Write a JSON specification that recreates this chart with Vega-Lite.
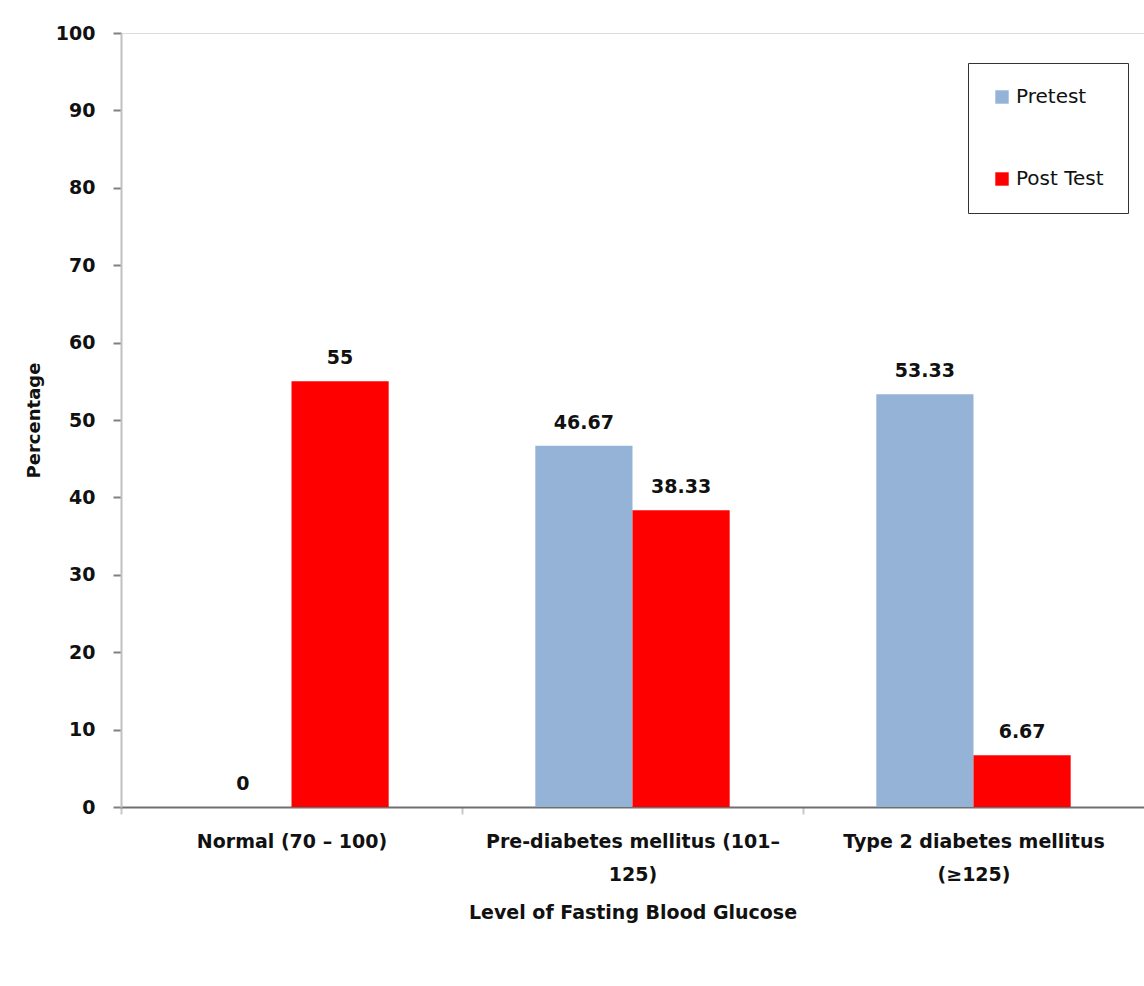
{
  "$schema": "https://vega.github.io/schema/vega-lite/v6.json",
  "autosize": {"type": "none"},
  "padding": {"left": 121, "top": 33, "right": 0, "bottom": 179},
  "width": 1023,
  "height": 774,
  "background": "white",
  "data": {
    "values": [
      {"level": "Normal (70 – 100)", "test": "Pretest", "pct": 0, "lbl": "0"},
      {"level": "Normal (70 – 100)", "test": "Post Test", "pct": 55, "lbl": "55"},
      {"level": "Pre-diabetes mellitus (101–125)", "test": "Pretest", "pct": 46.67, "lbl": "46.67"},
      {"level": "Pre-diabetes mellitus (101–125)", "test": "Post Test", "pct": 38.33, "lbl": "38.33"},
      {"level": "Type 2 diabetes mellitus (≥125)", "test": "Pretest", "pct": 53.33, "lbl": "53.33"},
      {"level": "Type 2 diabetes mellitus (≥125)", "test": "Post Test", "pct": 6.67, "lbl": "6.67"}
    ]
  },
  "encoding": {
    "x": {
      "field": "level", "type": "nominal", "sort": null,
      "scale": {"paddingInner": 0.43, "paddingOuter": 0.215},
      "axis": {
        "title": "Level of Fasting Blood Glucose",
        "labelAngle": 0,
        "tickOffset": -170.5, "labelOffset": 170.5,
        "labelExpr": "datum.label == 'Pre-diabetes mellitus (101–125)' ? ['Pre-diabetes mellitus (101–', '125)'] : datum.label == 'Type 2 diabetes mellitus (≥125)' ? ['Type 2 diabetes mellitus', '(≥125)'] : datum.label",
        "labelFont": "DejaVu Sans", "labelFontSize": 19, "labelFontWeight": "bold", "labelColor": "#111",
        "labelLineHeight": 33, "labelPadding": 18, "labelLimit": 400,
        "domainColor": "#707070", "domainWidth": 2,
        "tickColor": "#C8C8C8", "tickSize": 7, "tickWidth": 2,
        "titleFont": "DejaVu Sans", "titleFontSize": 19, "titleFontWeight": "bold", "titleColor": "#111",
        "titlePadding": 19
      }
    },
    "xOffset": {"field": "test", "type": "nominal", "sort": ["Pretest", "Post Test"], "scale": {"paddingInner": 0, "paddingOuter": 0}},
    "y": {
      "field": "pct", "type": "quantitative",
      "scale": {"domain": [0, 100]},
      "axis": {
        "title": "Percentage", "values": [0,10,20,30,40,50,60,70,80,90,100],
        "grid": false,
        "labelFont": "DejaVu Sans", "labelFontSize": 19, "labelFontWeight": "bold", "labelColor": "#111", "labelPadding": 18,
        "domainColor": "#C0C0C0", "domainWidth": 2,
        "tickColor": "#808080", "tickSize": 8, "tickWidth": 2,
        "titleFont": "DejaVu Sans", "titleFontSize": 18, "titleFontWeight": "bold", "titleColor": "#111", "titlePadding": 12
      }
    }
  },
  "layer": [
    {
      "mark": {"type": "bar"},
      "encoding": {
        "color": {
          "field": "test", "type": "nominal", "sort": ["Pretest", "Post Test"],
          "scale": {"domain": ["Pretest", "Post Test"], "range": ["#95B3D7", "#FF0000"]},
          "legend": {
            "title": null, "orient": "none", "legendX": 847, "legendY": 30,
            "direction": "vertical",
            "strokeColor": "#333", "padding": 24, "fillColor": "white",
            "symbolType": "square", "symbolSize": 180, "symbolStrokeWidth": 0,
            "labelFont": "DejaVu Sans", "labelFontSize": 20, "labelColor": "#111", "labelOffset": 4,
            "rowPadding": 62
          }
        }
      }
    },
    {
      "mark": {"type": "text", "baseline": "alphabetic", "dy": -17, "font": "DejaVu Sans", "fontSize": 19, "fontWeight": "bold", "color": "#111"},
      "encoding": {"text": {"field": "lbl"}}
    }
  ]
}
